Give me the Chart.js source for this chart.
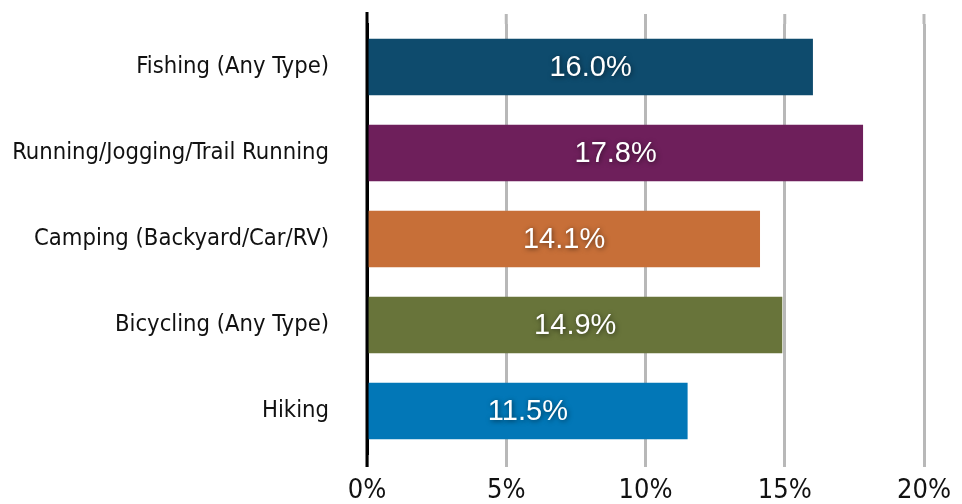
<!DOCTYPE html>
<html>
<head>
<meta charset="utf-8">
<script src="https://cdn.jsdelivr.net/npm/chart.js@4"></script>
<style>
  html, body { margin: 0; padding: 0; background: #fff; }
  #wrap { width: 962px; height: 504px; }
</style>
</head>
<body>
<div id="wrap"><canvas id="activityChart" width="962" height="504"></canvas></div>
<script>
const activities = ['Fishing (Any Type)', 'Running/Jogging/Trail Running', 'Camping (Backyard/Car/RV)', 'Bicycling (Any Type)', 'Hiking'];
const shares = [16.0, 17.8, 14.1, 14.9, 11.5];
const barColors = ['#0e4b6d', '#6e1f5b', '#c76f38', '#68743a', '#0277b7'];
const xTicks = [0, 5, 10, 15, 20];

const narrow = '"Liberation Sans Narrow", "DejaVu Sans Condensed", sans-serif';

// gridlines poke out above the plot and the zero line runs a bit past it
const extendLines = {
  id: 'extendLines',
  afterDraw(chart) {
    const ctx = chart.ctx, area = chart.chartArea, x = chart.scales.x;
    ctx.save();
    ctx.lineWidth = 3;
    ctx.strokeStyle = '#b8b8b8';
    xTicks.slice(1).forEach(v => {
      const px = x.getPixelForValue(v);
      ctx.beginPath();
      ctx.moveTo(px, 14);
      ctx.lineTo(px, area.top);
      ctx.stroke();
    });
    ctx.strokeStyle = '#000';
    const zx = x.getPixelForValue(0);
    ctx.beginPath();
    ctx.moveTo(zx, 12);
    ctx.lineTo(zx, area.bottom + 13);
    ctx.stroke();
    ctx.restore();
  }
};

// value text centred in each bar
const barLabels = {
  id: 'barLabels',
  afterDatasetsDraw(chart) {
    const ctx = chart.ctx;
    const meta = chart.getDatasetMeta(0);
    ctx.save();
    ctx.font = '29px "Liberation Sans", Arial, sans-serif';
    ctx.fillStyle = '#fff';
    ctx.textAlign = 'center';
    ctx.textBaseline = 'middle';
    ctx.shadowColor = 'rgba(0,0,0,0.55)';
    ctx.shadowBlur = 5;
    ctx.shadowOffsetX = 1;
    ctx.shadowOffsetY = 1;
    meta.data.forEach((bar, i) => {
      const cx = (bar.x + bar.base) / 2;
      ctx.fillText(shares[i].toFixed(1) + '%', cx, bar.y + 1);
    });
    ctx.restore();
  }
};

new Chart(document.getElementById('activityChart'), {
  type: 'bar',
  data: {
    labels: activities,
    datasets: [{
      data: shares,
      backgroundColor: barColors,
      borderWidth: 0,
      barThickness: 56
    }]
  },
  options: {
    indexAxis: 'y',
    responsive: false,
    animation: false,
    layout: { padding: { top: 24, right: 38, left: 0, bottom: 0 } },
    plugins: {
      legend: { display: false },
      tooltip: { enabled: false }
    },
    scales: {
      x: {
        min: 0,
        max: 20,
        afterBuildTicks: s => { s.ticks = xTicks.map(v => ({ value: v })); },
        afterFit: s => { s.height = 50; s.paddingLeft = 0; s.paddingRight = 0; },
        grid: { color: '#b8b8b8', lineWidth: 3, tickLength: 13, drawTicks: true },
        border: { display: false },
        ticks: {
          callback: v => v + '%',
          color: '#111',
          padding: 8,
          font: { family: narrow, size: 27 }
        }
      },
      y: {
        afterFit: s => { s.width = 367; s.paddingTop = 0; s.paddingBottom = 0; },
        grid: { display: false },
        border: { display: true, color: '#000', width: 3 },
        ticks: {
          color: '#111',
          padding: 30,
          font: { family: narrow, size: 23.6 }
        }
      }
    }
  },
  plugins: [extendLines, barLabels]
});
</script>
</body>
</html>
